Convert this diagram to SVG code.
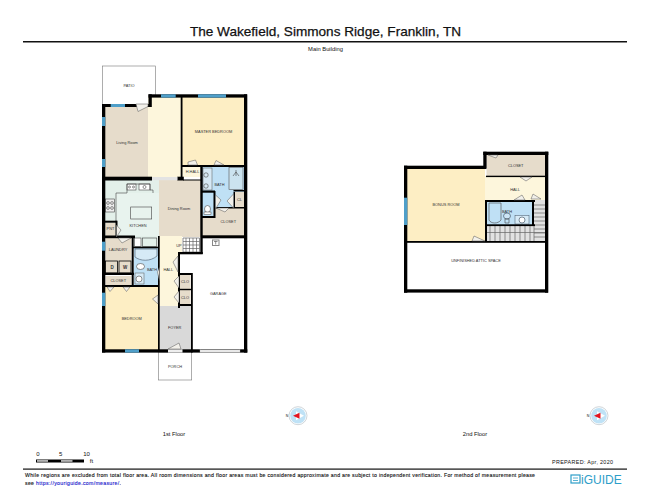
<svg xmlns="http://www.w3.org/2000/svg" width="650" height="502" viewBox="0 0 650 502">
<style>
text{font-family:"Liberation Sans",Arial,sans-serif;fill:#111}
.l{font-size:3.9px;text-anchor:middle;fill:#333}
.c{text-anchor:middle}
.w{fill:#000}
.win{fill:#4f9fc9}
.beige{fill:#e6dccb}
.cream{fill:#fdf6dc}
.yel{fill:#fdeec4}
.blue{fill:#bfe0f5}
.kit{fill:#e3f0ea}
.fix{fill:none;stroke:#444;stroke-width:.6}
.door{fill:#f2f0ea;stroke:#555;stroke-width:.5}
.st{stroke:#666;stroke-width:.7;fill:none}
.foot{font-size:5.200px;stroke:#111;stroke-width:.12}
</style>
<defs>
<g id="compass">
<circle r="9" fill="#fff" stroke="#aeb9c0" stroke-width=".6"/>
<circle r="7.800" fill="#bfe2f6"/>
<path d="M-2-4.500 6 0-2 4.500Z" fill="#fff"/>
<path d="M-5 0 1.500-3V3Z" fill="#e3141f"/>
<text x="-11" y="1.200" font-size="3.500" text-anchor="middle">N</text>
</g>
</defs>
<rect width="650" height="502" fill="#fff"/>
<g id="header">
<text x="325.500" y="35.500" class="c" font-size="13.600" stroke="#111" stroke-width=".25">The Wakefield, Simmons Ridge, Franklin, TN</text>
<rect x="23" y="41" width="604" height="1.500" fill="#111"/>
<text x="325.500" y="50.500" class="c" font-size="5.800">Main Building</text>
</g>

<g id="floor1-rooms">
<g id="patio"><rect x="102.300" y="66" width="53" height="39" fill="#fff" stroke="#777" stroke-width=".6"/><text x="129" y="87" class="l">PATIO</text></g>
<g id="living"><rect x="105" y="107" width="44" height="70" class="beige"/><text x="127" y="143.500" class="l">Living Room</text></g>
<g id="living-ext"><rect x="148" y="97" width="34" height="80" class="cream"/></g>
<g id="master"><rect x="182" y="97" width="63" height="68" class="yel"/><text x="213.500" y="132.800" class="l">MASTER BEDROOM</text></g>
<g id="hhall"><rect x="182" y="166" width="19" height="11" class="cream"/><text x="192.500" y="172.800" class="l">H.HALL</text></g>
<g id="master-bath"><rect x="202" y="166" width="42" height="42" class="blue"/><text x="219.500" y="186" class="l">BATH</text></g>
<g id="cl"><rect x="235" y="192" width="9" height="16" class="beige"/><text x="239.500" y="200.500" class="l">CL</text></g>
<g id="closet-m"><rect x="202" y="208" width="42" height="28" class="beige"/><text x="228.300" y="222.800" class="l">CLOSET</text></g>
<g id="dining"><rect x="159" y="180" width="42" height="57" class="beige"/><text x="179" y="210" class="l">Dining Room</text></g>
<g id="kitchen"><rect x="105" y="180" width="54" height="57" class="kit"/><path d="M116 236V193H159V236Z" fill="#e8f3ee" stroke="none"/><text x="138" y="227" class="l">KITCHEN</text></g>
<g id="pnt"><rect x="105.500" y="223" width="10" height="13" class="beige"/><text x="110.500" y="230" class="l">PNT</text></g>
<g id="laundry"><rect x="105.500" y="238" width="26" height="35" class="beige"/><text x="118" y="250.800" class="l">LAUNDRY</text></g>
<g id="closet-l"><rect x="105.500" y="276" width="26" height="9" class="beige"/><text x="118.300" y="282" class="l">CLOSET</text></g>
<g id="kitchen-cabinets"><rect x="133.500" y="237" width="24" height="11" class="kit"/><rect x="134.500" y="238" width="6.500" height="8.500" fill="#fff" stroke="#444" stroke-width=".6"/><rect x="142.300" y="238" width="14.500" height="8.500" class="kit" stroke="#444" stroke-width=".6"/></g>
<g id="bath1"><rect x="134" y="248" width="24" height="37" class="blue"/><text x="152" y="271" class="l">BATH</text></g>
<g id="hall1"><rect x="159" y="236" width="23" height="70" class="cream"/><text x="168.300" y="270.500" class="l">HALL</text><text x="179" y="247" class="l">UP</text></g>
<g id="foyer"><rect x="159" y="306" width="32" height="44" fill="#d9d9d9"/><text x="174.700" y="329" class="l">FOYER</text></g>
<g id="bedroom"><rect x="105" y="287" width="53" height="63" class="yel"/><text x="131.700" y="319.800" class="l">BEDROOM</text></g>
<g id="garage"><path d="M202.700 238H244V350H192.500V273H178V254H202.700Z" fill="#fff"/><text x="218.300" y="295" class="l">GARAGE</text></g>
<g id="clo1"><rect x="179.500" y="275" width="11" height="14" class="beige"/><text x="185" y="283" class="l">CLO</text></g>
<g id="clo2"><rect x="179.500" y="290" width="11" height="14" class="beige"/><text x="185" y="298.500" class="l">CLO</text></g>
<g id="porch"><rect x="158.300" y="352" width="33.400" height="28" fill="#fff" stroke="#777" stroke-width=".6"/><text x="175" y="367.500" class="l">PORCH</text></g>
</g>

<g id="floor1-fixtures">
<path class="st" d="M183 238H199.500V252H183ZM183 241.500H199.500M183 245H199.500M183 248.500H199.500M186 238V252M189.500 238V252M193 238V252M196.500 238V252" stroke-width=".5"/>
<rect x="212.500" y="240" width="6.500" height="5.500" fill="#fff" stroke="#888" stroke-width="1"/><path d="M214 241.500H217.500M215.700 241.500V244.500" class="fix"/>
<rect x="130.700" y="207" width="21" height="12" class="fix"/>
<rect x="105.500" y="199" width="9" height="13" fill="#eee" stroke="#444" stroke-width=".6"/>
<circle cx="108" cy="203" r="1.400" class="fix"/><circle cx="112" cy="203" r="1.400" class="fix"/><circle cx="108" cy="208" r="1.400" class="fix"/><circle cx="112" cy="208" r="1.400" class="fix"/>
<rect x="127" y="184" width="9" height="6" fill="#fff" stroke="#444" stroke-width=".6"/><rect x="139" y="184" width="11" height="6" fill="#fff" stroke="#444" stroke-width=".6"/>
<circle cx="129.500" cy="187" r="1" class="fix"/><circle cx="133.500" cy="187" r="1" class="fix"/><circle cx="144.500" cy="187" r="1.500" class="fix"/>
<path class="fix" d="M116 193H127V184H150V190H153V193M116 193V222"/>
<rect x="203" y="168" width="9" height="22" fill="#d6e9f5" stroke="#555" stroke-width=".5"/>
<circle cx="206" cy="175" r="2.200" class="fix"/><circle cx="206" cy="186" r="2.200" class="fix"/>
<rect x="229" y="167.500" width="14" height="22" fill="#cbe3ef" stroke="#555" stroke-width=".6"/><path d="M236 172 233 176M236 172 239 176M236 170V176" class="fix"/>
<rect x="202.500" y="193" width="11" height="23" class="blue"/>
<ellipse cx="207.500" cy="209" rx="3" ry="3.500" fill="#fff" stroke="#444" stroke-width=".6"/><rect x="204" y="212" width="7" height="2.500" fill="#fff" stroke="#444" stroke-width=".5"/>
<rect x="105.500" y="261" width="12" height="12" class="beige" stroke="#000" stroke-width=".8"/><text x="112" y="269" class="l" font-weight="700" style="font-size:4.500px">D</text>
<rect x="119" y="261" width="12" height="12" class="beige" stroke="#000" stroke-width=".8"/><text x="125" y="269" class="l" font-weight="700" style="font-size:4.500px">W</text>
<path d="M135 249H157V256C150 262 140 261 135 257Z" fill="#d6eaf6" stroke="#456" stroke-width=".6"/>
<ellipse cx="140.500" cy="266.500" rx="4" ry="3" fill="#fff" stroke="#444" stroke-width=".6"/>
<rect x="135" y="273" width="9" height="11" fill="#d6eaf6" stroke="#555" stroke-width=".5"/><circle cx="139" cy="279" r="3" fill="#fff" stroke="#444" stroke-width=".6"/>
</g>

<g id="floor1-walls" class="w">
<rect x="102" y="104" width="3.300" height="248.500"/>
<rect x="102" y="104" width="47" height="3"/>
<rect x="148.500" y="94.300" width="3.300" height="12.700"/>
<rect x="148.500" y="94.300" width="98.500" height="3.300"/>
<rect x="244" y="94.300" width="3.300" height="258.300"/>
<rect x="102" y="349.300" width="145.300" height="3.300"/>
<rect x="180.700" y="97" width="1.800" height="80"/>
<rect x="182" y="165" width="62" height="2"/>
<rect x="200.300" y="165" width="2.400" height="89"/>
<rect x="105" y="176.700" width="47" height="3.800"/>
<rect x="177.300" y="176.700" width="6.500" height="3.800"/>
<rect x="183" y="179.500" width="18" height="1"/>
<rect x="213.500" y="191" width="2" height="27"/>
<rect x="202" y="190.500" width="13" height="2.200"/>
<rect x="202" y="216" width="13" height="2"/>
<rect x="214" y="207" width="30" height="1.500"/>
<rect x="233.500" y="192" width="1.500" height="16"/>
<rect x="233.500" y="190" width="11" height="1.500"/>
<rect x="201" y="235.300" width="46" height="3"/>
<rect x="105" y="220.700" width="11.500" height="2"/>
<rect x="115.500" y="220.700" width="2" height="17"/>
<rect x="105" y="235.500" width="30" height="2.700"/>
<rect x="131.700" y="236" width="2" height="51"/>
<rect x="133" y="246.700" width="25" height="1.600"/>
<rect x="105" y="272.700" width="29" height="2.300"/>
<rect x="105" y="285" width="54" height="2"/>
<rect x="158" y="236" width="1.700" height="116"/>
<rect x="179" y="252" width="23.700" height="2.300"/>
<rect x="178" y="252" width="2" height="56"/>
<rect x="178" y="273" width="14" height="2"/>
<rect x="178" y="288.800" width="14" height="1.400"/>
<rect x="178" y="304" width="14" height="2"/>
<rect x="191" y="273" width="1.800" height="79.500"/>
</g>
<g id="floor1-windows">
<rect class="win" x="110.700" y="104" width="14.300" height="3"/>
<rect class="win" x="102" y="117" width="3.300" height="9"/>
<rect class="win" x="102" y="159" width="3.300" height="8"/>
<rect class="win" x="161" y="94.300" width="14.700" height="3.300"/>
<rect class="win" x="198" y="94.300" width="28" height="3.300"/>
<rect class="win" x="102" y="241.700" width="3.300" height="9"/>
<rect class="win" x="102" y="292.700" width="3.300" height="13.300"/>
<rect class="win" x="125" y="349.300" width="14" height="3.300"/>
<rect x="200" y="349.800" width="40" height="2.600" fill="#e8e8e8" stroke="#bbb" stroke-width=".3"/>
<rect x="152" y="177" width="25.300" height="3.200" fill="#e3e3e3"/>
<rect x="168" y="349.300" width="14.500" height="3.300" fill="#eee"/>
</g>
<g id="floor1-doors">
<path class="door" d="M136 104H148V106.500L138 111.500Z"/>
<path class="door" d="M188 165V162L195.500 160 197.500 165Z"/>
<path class="door" d="M214 165 216 160.500 224 165Z"/>
<path class="door" d="M215.500 195V209L221 200Z"/>
<path class="door" d="M233.500 194V208L227 201Z"/>
<path class="door" d="M216 208 225 212 229 208Z"/>
<path class="door" d="M116.500 225V237L121 230Z"/>
<path class="door" d="M118 238H131L122 243Z"/>
<path class="door" d="M107 287H114L110 291.500Z"/>
<path class="door" d="M123 287H130L126.500 291.500Z"/>
<path class="door" d="M159.500 267 157.500 272 159.500 281Z"/>
<path class="door" d="M158 295 152.500 299 158 304Z"/>
<path class="door" d="M178 256V272L173 262Z"/>
<path class="door" d="M179 276V288L174 281Z"/>
<path class="door" d="M179 291V303L174 297Z"/>
<path class="door" d="M168 349H181L179 343Z"/>
</g>

<g id="floor2-rooms">
<g id="bonus"><rect x="407" y="169" width="78" height="72" class="yel"/><text x="446" y="205.500" class="l">BONUS ROOM</text></g>
<g id="closet2"><rect x="486.500" y="155" width="58.500" height="21" class="beige"/><text x="515.700" y="166.800" class="l">CLOSET</text></g>
<g id="hall2"><rect x="485" y="176" width="60" height="25" class="cream"/><text x="515" y="190.500" class="l">HALL</text></g>
<g id="bath2"><rect x="487" y="201" width="46" height="24" class="blue"/><text x="507" y="213" class="l">BATH</text></g>
<g id="stairs2"><path d="M486 226H533.500V200H545V241H486Z" fill="#e2e2e2"/><path class="st" d="M534 205H545M534 209H545M534 213H545M534 217H545M534 221H545M534 225H545M534 229H545M534 233H545M534 237H545M534 226V241M490 226V241M495 226V241M500 226V241M505 226V241M510 226V241M515 226V241M520 226V241M525 226V241M530 226V241M487 232.500H545"/></g>
<g id="attic"><rect x="407" y="243" width="138" height="47" fill="#fff"/><text x="476" y="261.500" class="l">UNFINISHED ATTIC SPACE</text></g>
<path class="fix" d="M489 203H501V220C498 224 491 224 489 220Z" fill="#d6eaf6"/>
<ellipse cx="507" cy="216" rx="3.500" ry="3" fill="#cde5f5" stroke="#345" stroke-width=".6"/><path class="fix" d="M505 219H509V223H505Z"/>
<rect x="515" y="215.500" width="14" height="8.500" fill="#d6eaf6" stroke="#456" stroke-width=".5"/><circle cx="522" cy="220" r="3" fill="#fff" stroke="#345" stroke-width=".6"/>
</g>
<g id="floor2-walls" class="w">
<rect x="404" y="165.700" width="3.300" height="127"/>
<rect x="404" y="165.700" width="82" height="3.300"/>
<rect x="483.300" y="151.700" width="3.300" height="17"/>
<rect x="483.300" y="151.700" width="65" height="3.300"/>
<rect x="545" y="151.700" width="3.300" height="141"/>
<rect x="404" y="289.300" width="144" height="3.300"/>
<rect x="404" y="241" width="144" height="1.800"/>
<rect x="486" y="175.700" width="59" height="1.400"/>
<rect x="485" y="200" width="2" height="42"/>
<rect x="485" y="200" width="50" height="2"/>
<rect x="485" y="224.300" width="50" height="1.800"/>
<rect x="532" y="200" width="2" height="26"/>
</g>
<g id="floor2-windows"><rect class="win" x="404" y="197.700" width="3.300" height="27.300"/></g>
<g id="floor2-doors">
<path class="door" d="M488 155H498L496 158Z"/>
<path class="door" d="M520 177H532L526 181Z"/>
<path class="door" d="M514 200 522 195 525 200Z"/>
<path class="door" d="M531 199 533 194 541 199Z"/>
<path class="door" d="M472 241 474 236 485 241Z"/>
</g>

<use href="#compass" x="298" y="415.700"/>
<use href="#compass" x="599" y="415.700"/>
<g id="labels">
<text x="174" y="435.500" class="c" font-size="5.800">1st Floor</text>
<text x="475" y="435.500" class="c" font-size="5.800">2nd Floor</text>
</g>
<g id="scale">
<text x="38" y="456" class="c" font-size="6">0</text><text x="60.700" y="456" class="c" font-size="6">5</text><text x="86.500" y="456" class="c" font-size="6">10</text>
<rect x="36" y="459.500" width="48" height="3" fill="#000"/>
<rect x="37" y="460.300" width="11" height="1.300" fill="#fff"/><rect x="61" y="460.300" width="11.500" height="1.300" fill="#fff"/>
<text x="91.500" y="463" class="c" font-size="6">ft</text>
</g>
<g id="footer">
<rect x="23" y="468.500" width="604" height="1.200" fill="#111"/>
<text x="25" y="476.800" class="foot" textLength="510">While regions are excluded from total floor area. All room dimensions and floor areas must be considered approximate and are subject to independent verification. For method of measurement please</text>
<text x="25" y="485" class="foot" textLength="96">see <tspan fill="#2222cc" stroke="#2222cc">https://youriguide.com/measure/</tspan>.</text>
<text x="552" y="464" font-size="5.400" textLength="61">PREPARED: Apr, 2020</text>
<g id="logo"><rect x="571" y="475" width="9" height="8" fill="none" stroke="#2d9ec9" stroke-width="1.200"/><path d="M573 478H578M573 480.500H578" stroke="#2d9ec9" stroke-width=".8"/><text x="581" y="484" font-size="12" style="fill:#2d9ec9">iGUIDE</text></g>
</g>
</svg>
